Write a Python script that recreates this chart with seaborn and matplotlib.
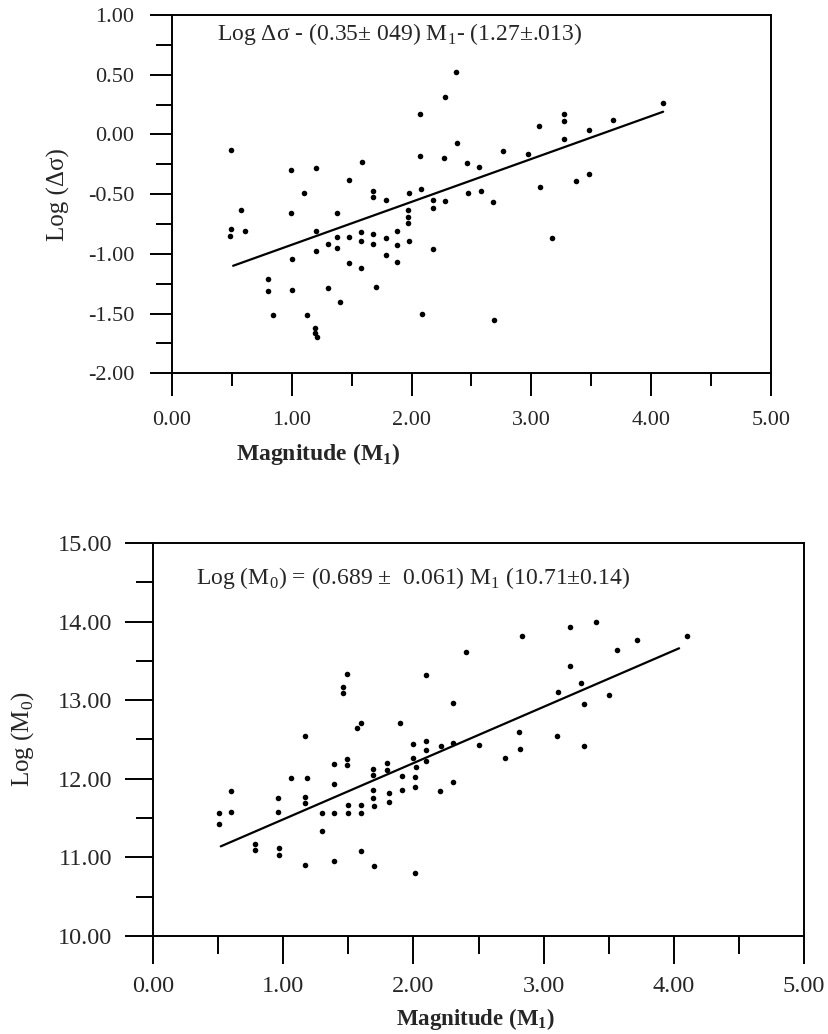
import matplotlib
matplotlib.use("Agg")
import matplotlib.pyplot as plt
import matplotlib.ticker as ticker
import seaborn as sns

# upper panel: log stress drop against local magnitude
top_mag = [0.49, 0.58, 0.99, 0.99, 1.10, 1.20, 1.38, 1.48, 1.59, 1.68, 1.68, 1.79, 1.98, 1.97, 1.97,
           1.97, 2.07, 2.07, 2.08, 2.18, 2.18, 2.28, 2.27, 2.28, 2.37, 2.38, 2.46, 2.56, 2.76, 2.97,
           3.06, 3.27, 3.27, 3.27, 3.48, 3.68, 4.10, 3.07, 3.37, 3.48, 2.47, 2.58, 2.68, 3.17, 2.69,
           0.49, 0.48, 0.61, 1.00, 0.80, 0.80, 1.00, 0.84, 1.13, 1.19, 1.19, 1.21, 1.20, 1.20, 1.30,
           1.38, 1.38, 1.48, 1.48, 1.30, 1.40, 1.58, 1.58, 1.58, 1.68, 1.68, 1.70, 1.79, 1.79, 1.88,
           1.88, 1.88, 1.98, 2.09, 2.18]
top_logds = [-0.13, -0.63, -0.30, -0.66, -0.49, -0.28, -0.66, -0.38, -0.23, -0.47, -0.52, -0.55, -0.49, -0.63, -0.69,
             -0.74, 0.17, -0.18, -0.46, -0.55, -0.62, 0.31, -0.20, -0.56, 0.52, -0.07, -0.24, -0.27, -0.14, -0.16,
             0.07, 0.17, 0.11, -0.04, 0.04, 0.12, 0.26, -0.44, -0.39, -0.33, -0.49, -0.47, -0.57, -0.87, -1.55,
             -0.79, -0.85, -0.81, -1.04, -1.21, -1.31, -1.30, -1.51, -1.51, -1.62, -1.66, -1.70, -0.81, -0.98, -0.92,
             -0.86, -0.95, -0.86, -1.08, -1.29, -1.40, -0.82, -0.89, -1.12, -0.83, -0.92, -1.28, -0.87, -1.01, -0.81,
             -0.93, -1.07, -0.89, -1.50, -0.96]
top_fit_x = [0.51, 4.10]
top_fit_y = [-1.10, 0.19]

# lower panel: log seismic moment against local magnitude
bot_mag = [1.49, 1.46, 1.46, 1.60, 1.57, 1.17, 2.10, 1.90, 1.39, 1.49, 1.49, 1.06, 1.18, 1.39, 0.60,
           0.96, 1.17, 1.17, 1.69, 1.69, 1.80, 1.80, 1.69, 1.69, 1.70, 1.81, 1.81, 1.91, 1.91, 2.00,
           2.00, 2.02, 2.01, 2.01, 2.10, 2.10, 2.10, 2.21, 2.20, 0.51, 0.60, 0.96, 1.30, 1.39, 1.50,
           1.60, 1.50, 1.60, 2.30, 2.40, 2.83, 3.20, 3.40, 3.72, 4.10, 3.56, 3.20, 3.29, 3.11, 3.31,
           3.50, 2.81, 3.10, 3.31, 2.82, 2.70, 2.50, 2.30, 2.30, 0.51, 0.78, 0.78, 0.97, 0.97, 1.17,
           1.30, 1.39, 1.60, 1.70, 2.01]
bot_logm0 = [13.33, 13.17, 13.09, 12.71, 12.64, 12.55, 13.32, 12.71, 12.19, 12.25, 12.17, 12.01, 12.01, 11.93, 11.85,
             11.75, 11.77, 11.69, 12.13, 12.05, 12.20, 12.11, 11.86, 11.76, 11.65, 11.82, 11.71, 12.04, 11.86, 12.44,
             12.26, 12.15, 12.02, 11.90, 12.48, 12.37, 12.22, 12.42, 11.84, 11.57, 11.58, 11.58, 11.56, 11.56, 11.56,
             11.57, 11.67, 11.67, 12.96, 13.61, 13.81, 13.93, 13.99, 13.76, 13.81, 13.64, 13.43, 13.22, 13.10, 12.95,
             13.07, 12.59, 12.54, 12.42, 12.38, 12.27, 12.43, 12.46, 11.96, 11.42, 11.17, 11.09, 11.12, 11.03, 10.90,
             11.34, 10.95, 11.08, 10.89, 10.80]
bot_fit_x = [0.52, 4.04]
bot_fit_y = [11.14, 13.66]

top_eq = r"Log Δσ - (0.35± 049) M$_{\mathrm{1}}$- (1.27±.013)"
bot_eq = r"Log (M$_{\mathrm{0}}$) = (0.689 ±  0.061) M$_{\mathrm{1}}$ (10.71±0.14)"

sns.set_theme(style="ticks")
plt.rcParams["font.family"] = ["Liberation Serif", "DejaVu Serif"]
plt.rcParams["mathtext.fontset"] = "custom"
plt.rcParams["mathtext.rm"] = "Liberation Serif"
plt.rcParams["mathtext.bf"] = "Liberation Serif:bold"
plt.rcParams["axes.unicode_minus"] = False

fig = plt.figure(figsize=(8.29, 10.34), dpi=100)
ax1 = fig.add_axes([0.2075, 0.639, 0.7225, 0.3465])
ax2 = fig.add_axes([0.1846, 0.0948, 0.7854, 0.3801])

sns.scatterplot(x=top_mag, y=top_logds, ax=ax1, color="black", s=16, linewidth=0)
sns.lineplot(x=top_fit_x, y=top_fit_y, ax=ax1, color="black", linewidth=1.6)
sns.scatterplot(x=bot_mag, y=bot_logm0, ax=ax2, color="black", s=16, linewidth=0)
sns.lineplot(x=bot_fit_x, y=bot_fit_y, ax=ax2, color="black", linewidth=1.6)

ax1.set_xlim(0, 5)
ax1.set_ylim(-2, 1)
ax2.set_xlim(0, 5)
ax2.set_ylim(10, 15)

for ax in (ax1, ax2):
    ax.xaxis.set_major_locator(ticker.MultipleLocator(1))
    ax.xaxis.set_minor_locator(ticker.MultipleLocator(0.5))
    ax.xaxis.set_major_formatter(ticker.FormatStrFormatter("%.2f"))
    ax.yaxis.set_major_formatter(ticker.FormatStrFormatter("%.2f"))
    for sp in ax.spines.values():
        sp.set_visible(True)
        sp.set_color("black")
        sp.set_linewidth(1.4)

ax1.yaxis.set_major_locator(ticker.MultipleLocator(0.5))
ax1.yaxis.set_minor_locator(ticker.MultipleLocator(0.25))
ax2.yaxis.set_major_locator(ticker.MultipleLocator(1))
ax2.yaxis.set_minor_locator(ticker.MultipleLocator(0.5))

ax1.tick_params(axis="y", which="major", direction="out", length=16, width=1.4, pad=11, labelsize=16, color="black")
ax1.tick_params(axis="y", which="minor", direction="out", length=11.5, width=1.4, color="black")
ax1.tick_params(axis="x", which="major", direction="out", length=16.5, width=1.4, pad=11, labelsize=16, color="black")
ax1.tick_params(axis="x", which="minor", direction="out", length=9.5, width=1.4, color="black")
ax2.tick_params(axis="y", which="major", direction="out", length=20, width=1.4, pad=9.5, labelsize=17.5, color="black")
ax2.tick_params(axis="y", which="minor", direction="out", length=12, width=1.4, color="black")
ax2.tick_params(axis="x", which="major", direction="out", length=20, width=1.4, pad=9, labelsize=17.5, color="black")
ax2.tick_params(axis="x", which="minor", direction="out", length=13, width=1.4, color="black")

ax1.set_ylabel("Log (Δσ)", fontsize=18)
ax1.yaxis.set_label_coords(-0.170, 0.5)
ax1.set_xlabel(r"Magnitude (M$_{\mathbf{1}}$)", fontsize=17, fontweight="bold")
ax1.xaxis.set_label_coords(0.244, -0.19)
ax2.set_ylabel(r"Log (M$_{\mathrm{0}}$)", fontsize=18)
ax2.yaxis.set_label_coords(-0.179, 0.5)
ax2.set_xlabel(r"Magnitude (M$_{\mathbf{1}}$)", fontsize=16.5, fontweight="bold")
ax2.xaxis.set_label_coords(0.496, -0.178)

ax1.text(0.075, 0.947, top_eq, transform=ax1.transAxes, fontsize=17, va="center", ha="left")
ax2.text(0.066, 0.911, bot_eq, transform=ax2.transAxes, fontsize=17, va="center", ha="left")

fig.savefig("out.png", dpi=100)
